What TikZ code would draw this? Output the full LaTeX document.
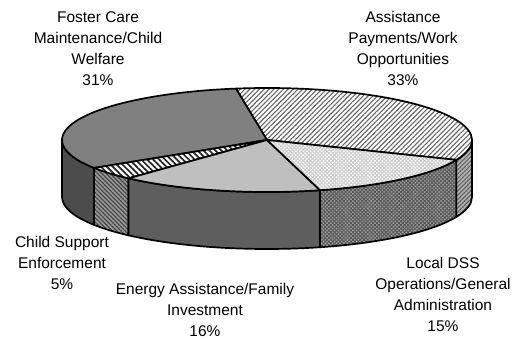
\documentclass[tikz,border=0pt]{standalone}
\usepackage{fontspec}
\setmainfont{Liberation Sans}
\usetikzlibrary{calc,patterns.meta}
\begin{document}
\begin{tikzpicture}[x=1pt,y=1pt,
  edge/.style={draw=black,line width=1.7pt,line join=round},
  lbl/.style={font=\fontsize{15.5}{21}\selectfont,align=center,inner sep=0pt,anchor=north},
  fosterTop/.style={edge,fill=black!50},
  fosterSide/.style={edge,fill=black!70},
  energyTop/.style={edge,fill=black!25},
  energySide/.style={edge,fill=black!63},
  assistTop/.style={edge,preaction={fill=white},pattern={Lines[angle=45,distance=3.4pt,line width=1.1pt]},pattern color=black!60},
  assistSide/.style={edge,preaction={fill=black!30},pattern={Lines[angle=45,distance=3pt,line width=1pt]},pattern color=black!65},
  childTop/.style={edge,preaction={fill=white},pattern={Lines[angle=-45,distance=4.2pt,line width=1.7pt]},pattern color=black!85},
  childSide/.style={edge,preaction={fill=black!40},pattern={Lines[angle=-45,distance=3pt,line width=1.1pt]},pattern color=black!75},
  dssTop/.style={edge,preaction={fill=white},pattern={Hatch[angle=45,distance=2.6pt,line width=0.8pt]},pattern color=black!22},
  dssSide/.style={edge,preaction={fill=black!38},pattern={Hatch[angle=45,distance=2.6pt,line width=0.8pt]},pattern color=black!68},
  ell/.style={x radius=205,y radius=52}
]
\useasboundingbox (0,0) rectangle (515,339);
\coordinate (C) at (267,199);
\coordinate (L)  at ($(C)+(180:205 and 52)$);
\coordinate (B1) at ($(C)+(98.7:205 and 52)$);
\coordinate (B2) at ($(C)+(337.5:205 and 52)$);
\coordinate (B3) at ($(C)+(285:205 and 52)$);
\coordinate (B4) at ($(C)+(227.5:205 and 52)$);
\coordinate (B5) at ($(C)+(212.5:205 and 52)$);
% side panels
\path[fosterSide] (L) arc[ell,start angle=180,end angle=212.5] -- ++(0,-57) arc[ell,start angle=212.5,end angle=180] -- cycle;
\path[childSide] (B5) arc[ell,start angle=212.5,end angle=227.5] -- ++(0,-57) arc[ell,start angle=227.5,end angle=212.5] -- cycle;
\path[energySide] (B4) arc[ell,start angle=227.5,end angle=285] -- ++(0,-57) arc[ell,start angle=285,end angle=227.5] -- cycle;
\path[dssSide] (B3) arc[ell,start angle=285,end angle=337.5] -- ++(0,-57) arc[ell,start angle=337.5,end angle=285] -- cycle;
\path[assistSide] (B2) arc[ell,start angle=337.5,end angle=360] -- ++(0,-57) arc[ell,start angle=360,end angle=337.5] -- cycle;
% top slices
\path[assistTop] (C) -- (B2) arc[ell,start angle=-22.5,end angle=98.7] -- cycle;
\path[fosterTop] (C) -- (B1) arc[ell,start angle=98.7,end angle=212.5] -- cycle;
\path[childTop] (C) -- (B5) arc[ell,start angle=212.5,end angle=227.5] -- cycle;
\path[energyTop] (C) -- (B4) arc[ell,start angle=227.5,end angle=285] -- cycle;
\path[dssTop] (C) -- (B3) arc[ell,start angle=285,end angle=337.5] -- cycle;
% labels
\node[lbl] (tFoster) at (98,328) {Foster Care\\Maintenance/Child\\Welfare\\31\%};
\node[lbl] (tAssist) at (403,328) {Assistance\\Payments/Work\\Opportunities\\33\%};
\node[lbl] (tChild) at (62,103) {Child Support\\Enforcement\\5\%};
\node[lbl] (tEnergy) at (205,56) {Energy Assistance/Family\\Investment\\16\%};
\node[lbl] (tDss) at (443,82) {Local DSS\\Operations/General\\Administration\\15\%};
\end{tikzpicture}
\end{document}
